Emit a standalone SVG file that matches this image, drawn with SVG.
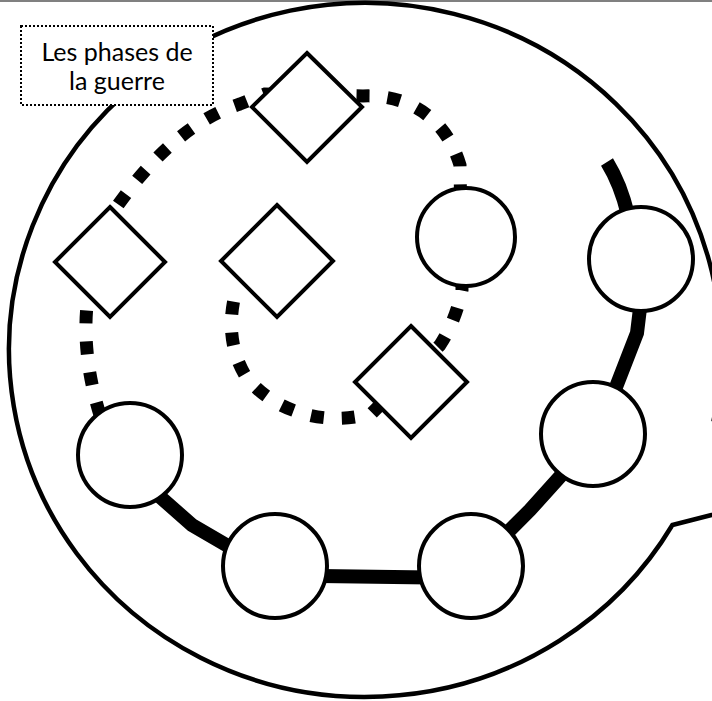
<svg xmlns="http://www.w3.org/2000/svg" width="712" height="701" viewBox="0 0 712 701">
<style>
.node{fill:#fff;stroke:#000;stroke-width:4}
.solid{fill:none;stroke:#000;stroke-width:14;stroke-linejoin:miter}
.dotted{fill:none;stroke:#000;stroke-width:13;stroke-dasharray:13 18}
.lbl{font-family:Lato,"Liberation Sans",sans-serif;font-size:25px;fill:#000;text-anchor:middle}
</style>
<rect x="0" y="0" width="712" height="701" fill="#fff"/>
<line x1="0" y1="1" x2="712" y2="1" stroke="#808080" stroke-width="2"/>
<g id="bubble">
<path d="M 672.4 525 L 790 495 L 713.7 420 A 356 347 0 1 0 672.4 525 Z" fill="#fff" stroke="#000" stroke-width="4.5" stroke-linejoin="miter"/>
</g>
<g id="connectors">
<path class="dotted" d="M 100 415 C 86 370 82 325 90 285 L 118 205 C 150 160 190 120 240 104 L 265 94 L 363 96 C 405 94 445 115 460 165 L 462 290 C 458 310 450 330 440 345 L 372 413 C 325 428 270 410 245 375 C 230 350 228 320 236 291"/>
<path class="solid" d="M 607 162 C 615 175 622 190 628 215"/>
<path class="solid" d="M 641 300 L 637 333 L 611 400"/>
<path class="solid" d="M 575 460 L 530 510 L 495 545"/>
<path class="solid" d="M 320 576 L 430 577.5"/>
<path class="solid" d="M 240 553 L 192 525 L 150 488"/>
</g>
<g id="d1"><polygon class="node" points="307,53 362,107 307,162 252,107"/></g>
<g id="d2"><polygon class="node" points="110,207 165,262 110,317 55,262"/></g>
<g id="d3"><polygon class="node" points="277,205 333,261 277,317 221,261"/></g>
<g id="d4"><polygon class="node" points="411,326 467,382 411,438 355,382"/></g>
<g id="c1"><circle class="node" cx="466" cy="237" r="49"/></g>
<g id="c2"><circle class="node" cx="641" cy="259" r="52"/></g>
<g id="c3"><circle class="node" cx="593" cy="434" r="52"/></g>
<g id="c4"><circle class="node" cx="471" cy="566" r="52"/></g>
<g id="c5"><circle class="node" cx="275" cy="566" r="52"/></g>
<g id="c6"><circle class="node" cx="130" cy="455" r="52"/></g>
<g id="title">
<rect x="21" y="26" width="192" height="79" fill="#fff" stroke="#000" stroke-width="2" stroke-dasharray="2 2"/>
<text class="lbl" x="117" y="61">Les phases de</text>
<text class="lbl" x="117" y="90">la guerre</text>
</g>
</svg>
